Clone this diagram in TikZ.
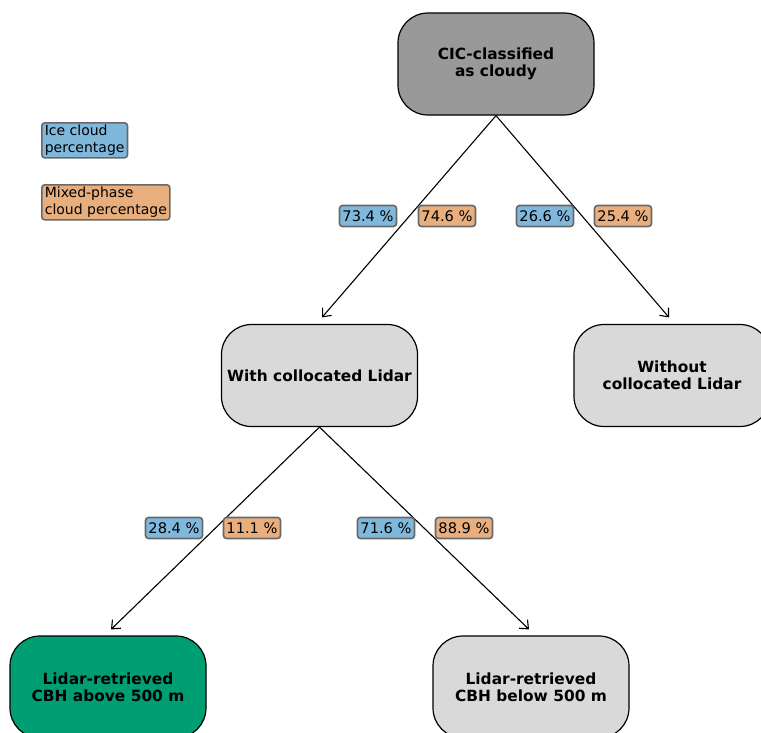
\documentclass[tikz,border=0pt]{standalone}
\usepackage{fontspec}
\setmainfont{DejaVu Sans}
\usetikzlibrary{positioning,arrows.meta}
\definecolor{rootgray}{HTML}{999999}
\definecolor{lightgray}{HTML}{D9D9D9}
\definecolor{green}{HTML}{009E73}
\definecolor{iceblue}{HTML}{80B8DC}
\definecolor{mixorange}{HTML}{E9AE7E}
\definecolor{edgegray}{HTML}{686868}

\begin{document}
\begin{tikzpicture}[x=1pt,y=-1pt,
  box/.style={draw, rounded corners=30pt, minimum width=196pt, minimum height=102pt,
    align=center, line width=1.2pt, font=\fontsize{15.4}{17.5}\selectfont\bfseries},
  pct/.style={draw=edgegray, rounded corners=3pt, line width=1.6pt, inner xsep=3pt,
    inner ysep=0pt, minimum height=21pt, font=\fontsize{14.6}{16.5}\selectfont},
  legend/.style={pct, align=left, inner ysep=2.5pt, font=\fontsize{14}{16.5}\selectfont},
  link/.style={-{Straight Barb[length=7pt,width=12pt]}, line width=1.1pt}]
  \clip (0,0) rectangle (761,732);
  % legend
  \node[legend, fill=iceblue, anchor=north west] (legice) at (41,122) {Ice cloud\\percentage};
  \node[legend, fill=mixorange, anchor=north west] (legmix) at (41,184) {Mixed-phase\\cloud percentage};
  % tree boxes
  \node[box, fill=rootgray] (root) at (496,64) {CIC-classified\\as cloudy};
  \node[box, fill=lightgray] (lidar) at (319.5,375.5) {With collocated Lidar};
  \node[box, fill=lightgray] (nolidar) at (672,375.5) {Without\\collocated Lidar};
  \node[box, fill=green] (above) at (108,687) {Lidar-retrieved\\CBH above 500 m};
  \node[box, fill=lightgray] (below) at (531,687) {Lidar-retrieved\\CBH below 500 m};
  % connectors
  \draw[link] (root.south) -- ([xshift=2.5pt,yshift=6.5pt]lidar.north);
  \draw[link] (root.south) -- ([xshift=-3pt,yshift=6.5pt]nolidar.north);
  \draw[link] (lidar.south) -- ([xshift=3pt,yshift=6pt]above.north);
  \draw[link] (lidar.south) -- ([xshift=-2pt,yshift=6pt]below.north);
  % percentages, first split
  \node[pct, fill=iceblue] (p1i) at (368,216) {73.4 \%};
  \node[pct, fill=mixorange] (p1m) at (447,216) {74.6 \%};
  \node[pct, fill=iceblue] (p2i) at (545,216) {26.6 \%};
  \node[pct, fill=mixorange] (p2m) at (623,216) {25.4 \%};
  % percentages, second split
  \node[pct, fill=iceblue] (p3i) at (174,528) {28.4 \%};
  \node[pct, fill=mixorange] (p3m) at (252,528) {11.1 \%};
  \node[pct, fill=iceblue] (p4i) at (386,528) {71.6 \%};
  \node[pct, fill=mixorange] (p4m) at (464,528) {88.9 \%};
\end{tikzpicture}
\end{document}
